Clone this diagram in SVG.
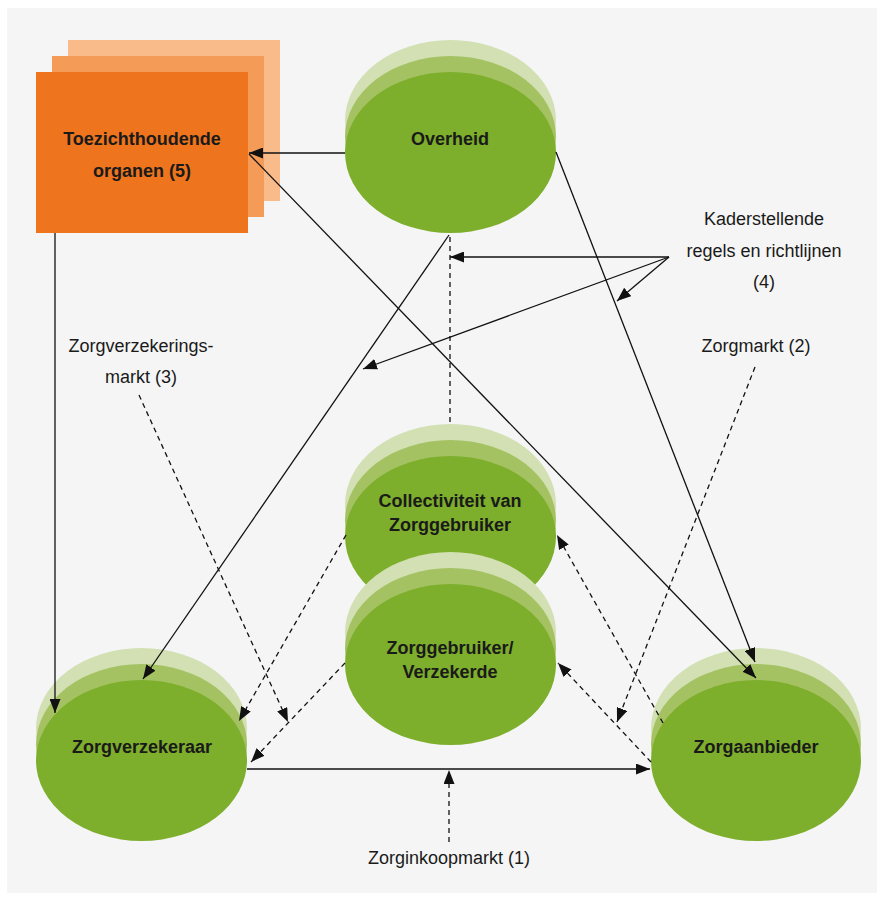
<svg xmlns="http://www.w3.org/2000/svg" width="883" height="900" viewBox="0 0 883 900">
<defs>
<style>
.bg{fill:#f5f5f5}
.l1{fill:#d2e0b4}
.l2{fill:#a5c262}
.l3{fill:#7dae2c}
.o1{fill:#f9bb8a}
.o2{fill:#f49b58}
.o3{fill:#ee741d}
.nt{font-family:"Liberation Sans",Arial,sans-serif;font-weight:bold;font-size:18px;fill:#1a1a1a;text-anchor:middle}
.lt{font-family:"Liberation Sans",Arial,sans-serif;font-size:18px;fill:#1a1a1a;text-anchor:middle}
.s{stroke:#111;stroke-width:1.3;fill:none}
.d{stroke:#111;stroke-width:1.3;fill:none;stroke-dasharray:5 4}
.a{marker-end:url(#ah)}
</style>
<marker id="ah" markerUnits="userSpaceOnUse" markerWidth="15" markerHeight="11" refX="14" refY="5.5" orient="auto">
<path d="M0,0 L14,5.5 L0,11 z" fill="#111"/>
</marker>
</defs>
<rect class="bg" x="7" y="8" width="870" height="885"/>

<g id="toezicht">
<rect class="o1" x="68" y="40" width="212" height="161"/>
<rect class="o2" x="52" y="56" width="212" height="161"/>
<rect class="o3" x="36" y="72" width="212" height="161"/>
<text class="nt" x="142" y="145">Toezichthoudende</text>
<text class="nt" x="142" y="177">organen (5)</text>
</g>

<g id="overheid">
<ellipse class="l1" cx="450.5" cy="120.5" rx="105.5" ry="80.5"/>
<ellipse class="l2" cx="450.5" cy="136.5" rx="105.5" ry="80.5"/>
<ellipse class="l3" cx="450.5" cy="152.5" rx="105.5" ry="80.5"/>
<text class="nt" x="450" y="145">Overheid</text>
</g>

<g id="collectiviteit">
<ellipse class="l1" cx="450.5" cy="504.5" rx="105.5" ry="80.5"/>
<ellipse class="l2" cx="450.5" cy="520.5" rx="105.5" ry="80.5"/>
<ellipse class="l3" cx="450.5" cy="536.5" rx="105.5" ry="80.5"/>
<text class="nt" x="450" y="507">Collectiviteit van</text>
<text class="nt" x="450" y="531">Zorggebruiker</text>
</g>

<g id="zorggebruiker">
<ellipse class="l1" cx="450.5" cy="632.5" rx="105.5" ry="80.5"/>
<ellipse class="l2" cx="450.5" cy="648.5" rx="105.5" ry="80.5"/>
<ellipse class="l3" cx="450.5" cy="664.5" rx="105.5" ry="80.5"/>
<text class="nt" x="450" y="654">Zorggebruiker/</text>
<text class="nt" x="450" y="678">Verzekerde</text>
</g>

<g id="zorgverzekeraar">
<ellipse class="l1" cx="141.5" cy="728.5" rx="105.5" ry="80.5"/>
<ellipse class="l2" cx="141.5" cy="744.5" rx="105.5" ry="80.5"/>
<ellipse class="l3" cx="141.5" cy="760.5" rx="105.5" ry="80.5"/>
<text class="nt" x="142" y="753">Zorgverzekeraar</text>
</g>

<g id="zorgaanbieder">
<ellipse class="l1" cx="756" cy="728.5" rx="105" ry="80.5"/>
<ellipse class="l2" cx="756" cy="744.5" rx="105" ry="80.5"/>
<ellipse class="l3" cx="756" cy="760.5" rx="105" ry="80.5"/>
<text class="nt" x="756" y="753">Zorgaanbieder</text>
</g>

<g id="labels">
<text class="lt" x="764" y="225">Kaderstellende</text>
<text class="lt" x="764" y="257">regels en richtlijnen</text>
<text class="lt" x="764" y="288">(4)</text>
<text class="lt" x="756" y="352">Zorgmarkt (2)</text>
<text class="lt" x="141" y="352">Zorgverzekerings-</text>
<text class="lt" x="141" y="383">markt (3)</text>
<text class="lt" x="449" y="864">Zorginkoopmarkt (1)</text>
</g>

<g id="connectors">
<line class="s a" x1="345" y1="153" x2="249" y2="153"/>
<line class="s a" x1="249" y1="154" x2="756" y2="678"/>
<line class="s a" x1="556" y1="152" x2="755" y2="662"/>
<line class="s a" x1="449" y1="235" x2="143" y2="679"/>
<line class="s a" x1="55" y1="233" x2="55" y2="713"/>
<line class="d" x1="450" y1="237" x2="450" y2="424"/>
<line class="s a" x1="669" y1="257" x2="450" y2="257"/>
<line class="s a" x1="669" y1="257" x2="617" y2="301"/>
<line class="s a" x1="669" y1="257" x2="363" y2="369"/>
<line class="d a" x1="139" y1="395" x2="288" y2="722"/>
<line class="d a" x1="755" y1="367" x2="617" y2="722"/>
<line class="d a" x1="346" y1="535" x2="239" y2="721"/>
<line class="d a" x1="345" y1="663" x2="251" y2="762"/>
<line class="d a" x1="663" y1="723" x2="557" y2="535"/>
<line class="d a" x1="651" y1="762" x2="558" y2="663"/>
<line class="s a" x1="247" y1="769" x2="650" y2="769"/>
<line class="d a" x1="449" y1="842" x2="449" y2="770"/>
</g>
</svg>
